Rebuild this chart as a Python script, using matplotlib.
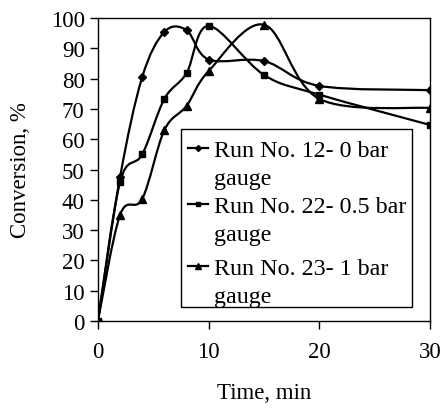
import numpy as np
import matplotlib.pyplot as plt
from matplotlib.path import Path
from matplotlib.patches import PathPatch, Rectangle

plt.rcParams['font.family'] = ['Liberation Serif', 'DejaVu Serif']

# Daten
zeit = [0, 2, 4, 6, 8, 10, 15, 20, 30]
run12 = [0, 47.5, 80.5, 95.4, 96.0, 86.3, 85.8, 77.6, 76.2]
run22 = [0, 45.9, 55.0, 73.3, 81.8, 97.4, 81.2, 74.7, 64.7]
run23 = [0, 35.0, 40.3, 63.0, 71.0, 82.5, 97.8, 73.3, 70.3]
labels = [("Run No. 12- 0 bar", "gauge"),
          ("Run No. 22- 0.5 bar", "gauge"),
          ("Run No. 23- 1 bar", "gauge")]
marker = ["D", "s", "^"]
msize = [4.5, 5, 5.5]


def glatte_kurve(x, y):
    # Excel-artige Glättung (Bezier, Catmull-Rom)
    p = np.column_stack([x, y]).astype(float)
    verts = [p[0]]
    codes = [Path.MOVETO]
    n = len(p)
    for i in range(n - 1):
        p0 = p[i - 1] if i > 0 else p[i]
        p3 = p[i + 2] if i + 2 < n else p[i + 1]
        c1 = p[i] + (p[i + 1] - p0) / 6
        c2 = p[i + 1] - (p3 - p[i]) / 6
        verts += [c1, c2, p[i + 1]]
        codes += [Path.CURVE4] * 3
    return Path(verts, codes)


fig = plt.figure(figsize=(4.43, 4.10), dpi=100)
ax = fig.add_axes([0.221, 0.2146, 0.750, 0.739])

for werte, m, ms in zip([run12, run22, run23], marker, msize):
    ax.add_patch(PathPatch(glatte_kurve(zeit, werte), facecolor="none",
                           edgecolor="black", lw=1.6))
    ax.plot(zeit, werte, linestyle="none", marker=m, ms=ms, color="black")

ax.set_xlim(0, 30)
ax.set_ylim(0, 100)
ax.set_xticks([0, 10, 20, 30])
ax.set_yticks(range(0, 101, 10))
ax.tick_params(axis="x", length=6, width=1, pad=8.5, labelsize=16.5)
ax.tick_params(axis="y", length=6, width=1, pad=3.5, labelsize=16.5)
for s in ax.spines.values():
    s.set_linewidth(1)
ax.set_xlabel("Time, min", fontsize=16.5, labelpad=14)
ax.set_ylabel("Conversion, %", fontsize=16.5, labelpad=14)

# Legende von Hand (Symbol neben der ersten Zeile)
ax.add_patch(Rectangle((0.25, 0.046), 0.696, 0.588, transform=ax.transAxes,
                       facecolor="white", edgecolor="black", lw=1, zorder=5))
zeile1 = [0.5446, 0.3597, 0.155]
symbol_y = [0.571, 0.386, 0.1815]
for (t1, t2), m, ms, yb, ys in zip(labels, marker, msize, zeile1, symbol_y):
    ax.plot([0.271, 0.331], [ys, ys], color="black", lw=1.6,
            transform=ax.transAxes, zorder=6)
    ax.plot([0.301], [ys], marker=m, ms=ms - 1.5, color="black",
            transform=ax.transAxes, zorder=6)
    ax.text(0.349, yb, t1, fontsize=17.3, va="baseline", ha="left",
            transform=ax.transAxes, zorder=6)
    ax.text(0.349, yb - 0.093, t2, fontsize=17.3, va="baseline", ha="left",
            transform=ax.transAxes, zorder=6)

plt.savefig("out.png", dpi=100)
